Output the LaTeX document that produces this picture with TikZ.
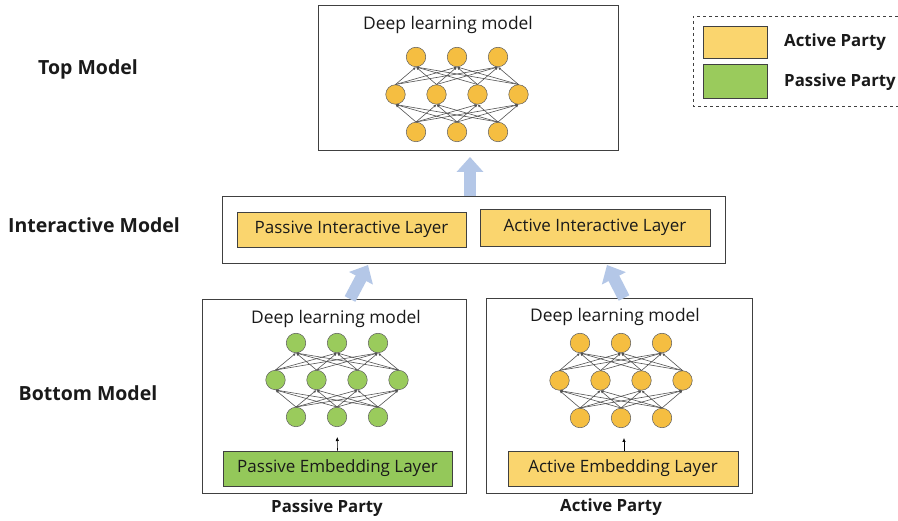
\documentclass[tikz,border=0pt]{standalone}
\usepackage{fontspec}
\setmainfont{Open Sans}
\usetikzlibrary{arrows.meta}
\definecolor{gold}{HTML}{F5BE41}
\definecolor{lightgold}{HTML}{FAD56E}
\definecolor{leaf}{HTML}{9ACB5C}
\definecolor{leafbox}{HTML}{94C85A}
\definecolor{arrowblue}{HTML}{B4C7E7}
\definecolor{edgegray}{HTML}{404040}
\definecolor{txt}{HTML}{1A1A1A}
\newcommand\drawnet[5]{%
  \foreach \i/\dx in {1/-41,2/0,3/41} {\node[neuron,fill=#5] (#1a\i) at ({#2+(\dx)},#3) {};}
  \foreach \j/\dx in {1/-61.5,2/-20.5,3/20.5,4/61.5} {\node[neuron,fill=#5] (#1b\j) at ({#2+(\dx)},{#3+#4}) {};}
  \foreach \i/\dx in {1/-41,2/0,3/41} {\node[neuron,fill=#5] (#1c\i) at ({#2+(\dx)},{#3+2*(#4)}) {};}
  \foreach \i in {1,2,3} {\foreach \j in {1,2,3,4} {
    \draw[conn] (#1c\i.north) -- (#1b\j.south);
    \draw[conn] (#1b\j.north) -- (#1a\i.south);
  }}%
}
\begin{document}
\begin{tikzpicture}[x=1pt,y=-1pt,
  txt,
  box/.style={draw=edgegray, line width=0.9pt, inner sep=0, rectangle},
  layer/.style={draw=edgegray, line width=0.8pt, inner sep=0, rectangle, font=\fontsize{17}{20}\selectfont},
  neuron/.style={circle, draw=edgegray!85, line width=0.5pt, minimum size=19.5pt, inner sep=0},
  conn/.style={draw=edgegray!90, line width=0.6pt, -{Latex[length=3pt,width=2.6pt]}},
  bigarrow/.style={draw=arrowblue, line width=12pt, -{Triangle[length=15pt,width=26pt]}},
  smallarrow/.style={draw=black, line width=0.6pt, -{Latex[length=4pt,width=3.5pt]}},
  lbl/.style={font=\bfseries\fontsize{19.5}{22}\selectfont, inner sep=0},
  party/.style={font=\bfseries\fontsize{16.8}{19}\selectfont, inner sep=0},
  dlm/.style={font=\fontsize{17.4}{20}\selectfont, inner sep=0}
]
\useasboundingbox (0,0) rectangle (898,521);
\fill[white] (0,0) rectangle (898,521);

% left labels
\node[lbl] (ltop) at (88,69) {Top Model};
\node[lbl] (lint) at (94,225) {Interactive Model};
\node[lbl] (lbot) at (88,393) {Bottom Model};

% top model
\node[box, minimum width=300pt, minimum height=145pt] (top) at (468,77.5) {};
\node[dlm] (tdl) at (448,25) {Deep learning model};
\drawnet{t}{457}{57}{37.5}{gold}

% interactive model
\node[box, minimum width=503pt, minimum height=67pt] (inter) at (473.5,229.5) {};
\node[layer, fill=lightgold, minimum width=229pt, minimum height=35pt] (player) at (351.5,229.5) {Passive Interactive Layer};
\node[layer, fill=lightgold, minimum width=230pt, minimum height=37pt] (alayer) at (595,227.5) {Active Interactive Layer};

% bottom models
\node[box, minimum width=264pt, minimum height=194pt] (pbox) at (334,396) {};
\node[box, minimum width=266pt, minimum height=195pt] (abox) at (619,395.5) {};
\node[dlm] (pdl) at (336,319) {Deep learning model};
\node[dlm] (adl) at (615,317) {Deep learning model};
\drawnet{p}{337}{343}{37}{leaf}
\drawnet{a}{621}{343}{37.5}{gold}
\node[layer, fill=leafbox, minimum width=229pt, minimum height=35pt] (pemb) at (337.5,468.5) {Passive Embedding Layer};
\node[layer, fill=lightgold, minimum width=230pt, minimum height=35pt] (aemb) at (623,468.5) {Active Embedding Layer};
\draw[smallarrow, shorten >=10pt] (pemb.north) -- (pc2.south);
\draw[smallarrow, shorten >=10pt] ([xshift=1pt]aemb.north) -- ([xshift=3pt]ac2.south);

\node[party] (ppas) at (327,508) {Passive Party};
\node[party] (pact) at (611,507) {Active Party};

% big arrows
\coordinate (tA) at (470,157);
\draw[bigarrow] ([xshift=-3.5pt]inter.north) -- (tA);
\coordinate (pA0) at (350,299);
\coordinate (pA1) at (368,265);
\draw[bigarrow] (pA0) -- (pA1);
\coordinate (aA0) at (624,298);
\coordinate (aA1) at (607,265);
\draw[bigarrow] (aA0) -- (aA1);

% legend
\draw[edgegray, line width=0.8pt, dashed] (898,16) -- (693,16) -- (693,106) -- (898,106);
\node[box, fill=lightgold, minimum width=64pt, minimum height=32pt] (lgA) at (735,42) {};
\node[box, fill=leaf, minimum width=64pt, minimum height=34pt] (lgP) at (735,81) {};
\node[party, anchor=west] (lgAt) at (784,42) {Active Party};
\node[party, anchor=west] (lgPt) at (784,82) {Passive Party};
\end{tikzpicture}
\end{document}
